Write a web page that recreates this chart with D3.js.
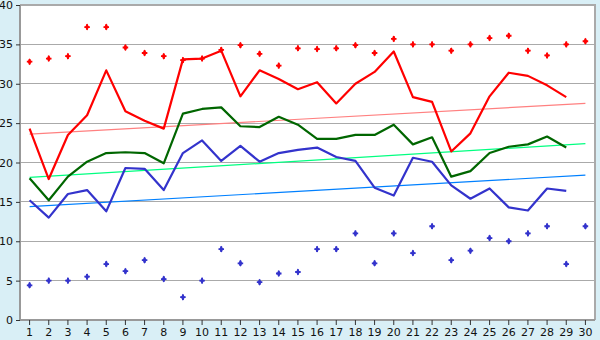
<!DOCTYPE html>
<html><head><meta charset="utf-8">
<script src="https://cdn.jsdelivr.net/npm/d3@7"></script>
<style>body{margin:0;background:#d9eff6}svg{display:block}</style>
</head><body>
<svg id="c" width="600" height="340"></svg>
<script>
const categories = d3.range(1, 31).map(String);
const yTicks = [0, 5, 10, 15, 20, 25, 30, 35, 40];
const redMarks = [32.8,33.2,33.5,37.2,37.2,34.6,33.9,33.5,33.0,33.2,34.3,34.9,33.8,32.3,34.5,34.4,34.5,34.9,33.9,35.7,35.0,35.0,34.2,35.0,35.8,36.1,34.2,33.6,35.0,35.4];
const redLine = [24.3,17.9,23.5,26.0,31.7,26.5,25.3,24.3,33.1,33.2,34.2,28.4,31.7,30.6,29.3,30.2,27.5,30.0,31.5,34.1,28.3,27.7,21.4,23.7,28.4,31.4,31.0,29.8,28.3,null];
const greenLine = [18.0,15.2,18.2,20.1,21.2,21.3,21.2,19.9,26.2,26.8,27.0,24.6,24.5,25.8,24.8,23.0,23.0,23.5,23.5,24.8,22.3,23.2,18.2,18.9,21.2,22.0,22.3,23.3,21.9,null];
const blueLine = [15.2,13.0,16.0,16.5,13.8,19.3,19.2,16.5,21.2,22.8,20.2,22.1,20.1,21.2,21.6,21.9,20.7,20.2,16.8,15.8,20.6,20.1,17.1,15.4,16.7,14.3,13.9,16.7,16.4,null];
const blueMarks = [4.4,5.0,5.0,5.5,7.1,6.2,7.6,5.2,2.9,5.0,9.0,7.2,4.8,5.9,6.1,9.0,9.0,11.0,7.2,11.0,8.5,11.9,7.6,8.8,10.4,10.0,11.0,11.9,7.1,11.9];
const redTrend = [23.6, 27.5];
const greenTrend = [18.1, 22.4];
const blueTrend = [14.4, 18.4];

const svg = d3.select("#c");
const L = 20, R = 595, T = 5, B = 320;
const x = d3.scaleBand().domain(categories).range([L, R]);
const y = d3.scaleLinear().domain([0, 40]).range([B, T]);
const cx = c => x(c) + x.bandwidth() / 2;

svg.append("rect").attr("x", L).attr("y", T).attr("width", R - L).attr("height", B - T).attr("fill", "#fff");

// gridlines
svg.append("g").selectAll("line").data(yTicks.filter(d => d > 0 && d < 40)).join("line")
  .attr("x1", L).attr("x2", R).attr("y1", d => y(d)).attr("y2", d => y(d))
  .attr("stroke", "#aaaaaa").attr("stroke-width", 1).attr("shape-rendering", "crispEdges");

// border top/right
svg.append("path").attr("d", `M${L},${T}H${R}V${B}`).attr("fill", "none")
  .attr("stroke", "#aaaaaa").attr("stroke-width", 2).attr("shape-rendering", "crispEdges");

// axes
const yAxis = d3.axisLeft(y).tickValues(yTicks).tickSize(4).tickPadding(3);
const gy = svg.append("g").attr("transform", `translate(${L},0)`).call(yAxis);
const xAxis = d3.axisBottom(x).tickSize(5).tickPadding(3);
const gx = svg.append("g").attr("transform", `translate(0,${B})`).call(xAxis);
[gy, gx].forEach(g => {
  g.selectAll(".domain").attr("stroke", "#999").attr("stroke-width", 2);
  g.selectAll(".tick line").attr("stroke", "#333");
  g.selectAll("text").attr("font-family", "DejaVu Sans, Verdana, sans-serif").attr("font-size", 11).attr("fill", "#111");
});
gy.select(".domain").attr("d", `M0,${T}V${B}`);
gx.select(".domain").attr("d", `M${L},0H${R}`);

// trend lines
const trends = [[redTrend, "#ff8080"], [greenTrend, "#00ff80"], [blueTrend, "#0080ff"]];
trends.forEach(([t, col]) => {
  svg.append("line").attr("x1", cx(categories[0])).attr("x2", cx(categories[categories.length - 1]))
    .attr("y1", y(t[0])).attr("y2", y(t[1])).attr("stroke", col).attr("stroke-width", 1.2);
});

// lines
const line = d3.line().defined(d => d[1] != null).x(d => cx(d[0])).y(d => y(d[1]));
[[redLine, "#ff0000"], [greenLine, "#006600"], [blueLine, "#3333cc"]].forEach(([vals, col]) => {
  svg.append("path").datum(categories.map((c, i) => [c, vals[i]]))
    .attr("d", line).attr("fill", "none").attr("stroke", col).attr("stroke-width", 2.2)
    .attr("stroke-linejoin", "round");
});

// markers
const sym = d3.symbol().type(d3.symbolCross).size(17);
const dia = d3.symbol().type(d3.symbolDiamond).size(14);
[[redMarks, "#ff0000"], [blueMarks, "#3333cc"]].forEach(([vals, col]) => {
  const g = svg.append("g").selectAll("g").data(categories.map((c, i) => [c, vals[i]])).join("g")
    .attr("transform", d => `translate(${cx(d[0])},${y(d[1])})`);
  g.append("path").attr("d", sym).attr("fill", col);
  g.append("path").attr("d", dia).attr("fill", col);
});
</script>
</body></html>
